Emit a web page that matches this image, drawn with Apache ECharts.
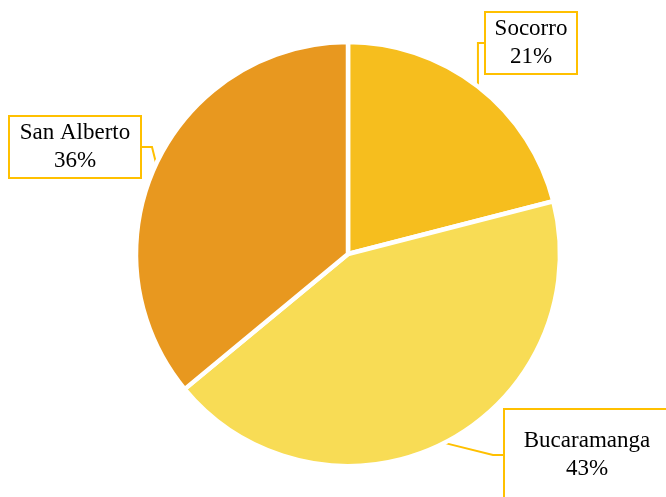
<!DOCTYPE html>
<html>
<head>
<meta charset="utf-8">
<script src="https://cdn.jsdelivr.net/npm/echarts@6/dist/echarts.min.js"></script>
<style>
  html, body { margin: 0; padding: 0; background: #fff; }
  #main { width: 666px; height: 497px; }
</style>
</head>
<body>
<div id="main"></div>
<script>
// datos
const ciudades = ['Socorro', 'Bucaramanga', 'San Alberto'];
const porcentajes = [21, 43, 36];
const colores = ['#F6BE1E', '#F8DC55', '#E8981F'];

// caja de cada etiqueta: centro y tamaño
const cajas = [
    {x: 531, y: 43, w: 90, h: 60},
    {x: 587, y: 455, w: 164, h: 90},
    {x: 75, y: 147, w: 130, h: 60}
];

const chart = echarts.init(document.getElementById('main'));

chart.setOption({
    animation: false,
    series: [{
        type: 'pie',
        center: [348, 254],
        radius: 212,
        startAngle: 90,
        clockwise: true,
        itemStyle: {borderColor: '#fff', borderWidth: 4.5},
        label: {
            show: true,
            position: 'outside',
            formatter: p => p.name + '\n' + p.value + '%',
            fontFamily: 'Liberation Serif',
            fontSize: 23,
            lineHeight: 28,
            color: '#000',
            align: 'center',
            verticalAlign: 'middle',
            backgroundColor: '#fff',
            borderColor: '#FFC000',
            borderWidth: 2
        },
        labelLine: {
            show: true,
            length: 10,
            length2: 10,
            lineStyle: {color: '#FFC000', width: 2}
        },
        labelLayout: function (params) {
            const c = cajas[params.dataIndex];
            return {x: c.x, y: c.y, align: 'center', verticalAlign: 'middle'};
        },
        data: ciudades.map((n, i) => ({
            name: n,
            value: porcentajes[i],
            itemStyle: {color: colores[i]},
            label: {width: cajas[i].w, height: cajas[i].h}
        }))
    }]
});
</script>
</body>
</html>
